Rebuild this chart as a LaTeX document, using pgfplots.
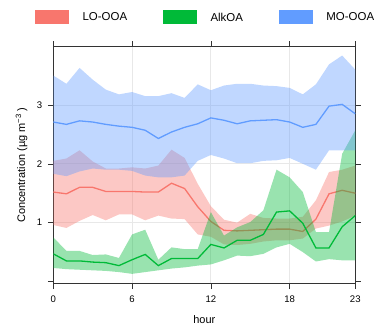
\documentclass[border=0pt]{standalone}
\usepackage{fontspec}
\setmainfont{Liberation Sans}
\usepackage{pgfplots}
\pgfplotsset{compat=1.18}
\usepackage{pgfplotstable}

\definecolor{cLO}{HTML}{F8766D}
\definecolor{cAlk}{HTML}{00BA38}
\definecolor{cMO}{HTML}{619CFF}

% mean lines
\pgfplotstableread{
h LO Alk MO
0 1.52 0.47 2.71
1 1.49 0.35 2.67
2 1.60 0.35 2.73
3 1.60 0.33 2.71
4 1.53 0.32 2.67
5 1.53 0.27 2.64
6 1.53 0.37 2.62
7 1.52 0.46 2.57
8 1.52 0.27 2.43
9 1.67 0.39 2.54
10 1.58 0.39 2.62
11 1.27 0.39 2.68
12 1.02 0.63 2.78
13 0.87 0.57 2.74
14 0.86 0.70 2.68
15 0.87 0.70 2.73
16 0.88 0.80 2.74
17 0.89 1.18 2.75
18 0.89 1.20 2.71
19 0.85 0.99 2.62
20 1.06 0.57 2.67
21 1.49 0.57 2.98
22 1.55 0.93 3.01
23 1.50 1.12 2.85
}\tabMean

% band outlines: upper edge from hour 0 to 23, then lower edge from hour 23 back to 0
\pgfplotstableread{
h LO Alk MO
0 2.05 0.75 3.50
1 2.09 0.52 3.36
2 2.23 0.52 3.63
3 2.04 0.45 3.43
4 1.92 0.46 3.26
5 1.92 0.40 3.18
6 1.94 0.80 3.22
7 1.92 0.88 3.15
8 1.97 0.37 3.15
9 2.24 0.58 3.20
10 2.10 0.55 3.12
11 1.66 0.55 3.35
12 1.28 1.18 3.25
13 1.05 0.78 3.33
14 1.00 0.92 3.36
15 1.15 1.01 3.36
16 1.08 1.21 3.33
17 1.07 1.90 3.32
18 1.07 1.77 3.29
19 1.10 1.52 3.18
20 1.38 0.84 3.35
21 1.86 0.84 3.69
22 1.90 2.17 3.84
23 1.97 2.57 3.60
23 1.12 0.36 2.23
22 1.02 0.36 2.23
21 0.95 0.38 2.23
20 0.90 0.34 1.90
19 0.73 0.50 2.00
18 0.70 0.64 2.10
17 0.70 0.58 2.06
16 0.68 0.47 2.05
15 0.64 0.43 2.01
14 0.62 0.44 2.01
13 0.63 0.36 2.09
12 0.76 0.29 2.15
11 0.80 0.27 2.05
10 1.06 0.24 1.80
9 1.07 0.22 1.77
8 1.12 0.19 1.77
7 1.04 0.16 1.80
6 1.14 0.13 1.88
5 1.14 0.16 1.90
4 1.04 0.18 1.90
3 1.13 0.19 1.92
2 1.03 0.20 1.87
1 0.91 0.21 1.79
0 0.96 0.23 1.83
}\tabBand

\begin{document}
\begin{tikzpicture}
\useasboundingbox (-53.3bp,-43.5bp) rectangle (320.7bp,283.5bp);
\begin{axis}[
  at={(0,0)}, anchor=south west,
  scale only axis, width=302bp, height=236.8bp,
  xmin=0, xmax=23, ymin=-0.034, ymax=3.99,
  xtick={0,6,12,18,23}, ytick={0,1,2,3,4}, yticklabels={,1,2,3,},
  minor xtick={6,12,18}, minor ytick={1,2,3},
  xminorgrids=true, yminorgrids=true,
  minor grid style={gray!18, line width=0.8bp},
  minor tick length=0pt,
  tick align=outside, major tick length=5.5bp,
  tick style={black!80, line width=0.6bp},
  axis line style={black!80, line width=0.6bp},
  xtick pos=both, ytick pos=both,
  xticklabel pos=lower, yticklabel pos=left,
  /pgf/number format/assume math mode=true,
  ticklabel style={font=\fontsize{9.6}{11}\selectfont, inner sep=0pt, text=black},
  xticklabel style={yshift=-7bp},
  yticklabel style={xshift=-5.5bp},
  xlabel={hour},
  ylabel={Concentration (µg m\textsuperscript{−3} )},
  label style={font=\fontsize{11}{13}\selectfont, text=black},
  xlabel style={at={(axis description cs:0.5,-0.1689)}, anchor=base},
  ylabel style={at={(axis description cs:-0.0937,0.5)}, anchor=base},
  legend style={at={(axis description cs:-0.0705,1.1287)}, anchor=west,
    draw=none, fill=none, font=\fontsize{11.5}{13}\selectfont,
    nodes={inner sep=0pt, text=black},
    /tikz/every odd column/.append style={column sep=14bp},
    /tikz/every even column/.append style={column sep=36bp}},
  legend columns=3,
]
\addlegendimage{legend image code/.code={\fill[cLO] (0bp,-5bp) rectangle (33bp,8bp);}}
\addlegendentry{LO-OOA}
\addlegendimage{legend image code/.code={\fill[cAlk] (0bp,-5bp) rectangle (33bp,8bp);}}
\addlegendentry{AlkOA}
\addlegendimage{legend image code/.code={\fill[cMO] (0bp,-5bp) rectangle (33bp,8bp);}}
\addlegendentry{MO-OOA}

\addplot[fill=cLO, fill opacity=0.4, draw=none, forget plot] table[x=h,y=LO]{\tabBand} -- cycle;
\addplot[cLO, line width=1.3bp, forget plot] table[x=h,y=LO]{\tabMean};

\addplot[fill=cAlk, fill opacity=0.4, draw=none, forget plot] table[x=h,y=Alk]{\tabBand} -- cycle;
\addplot[cAlk, line width=1.3bp, forget plot] table[x=h,y=Alk]{\tabMean};

\addplot[fill=cMO, fill opacity=0.4, draw=none, forget plot] table[x=h,y=MO]{\tabBand} -- cycle;
\addplot[cMO, line width=1.3bp, forget plot] table[x=h,y=MO]{\tabMean};
\end{axis}
\end{tikzpicture}
\end{document}
